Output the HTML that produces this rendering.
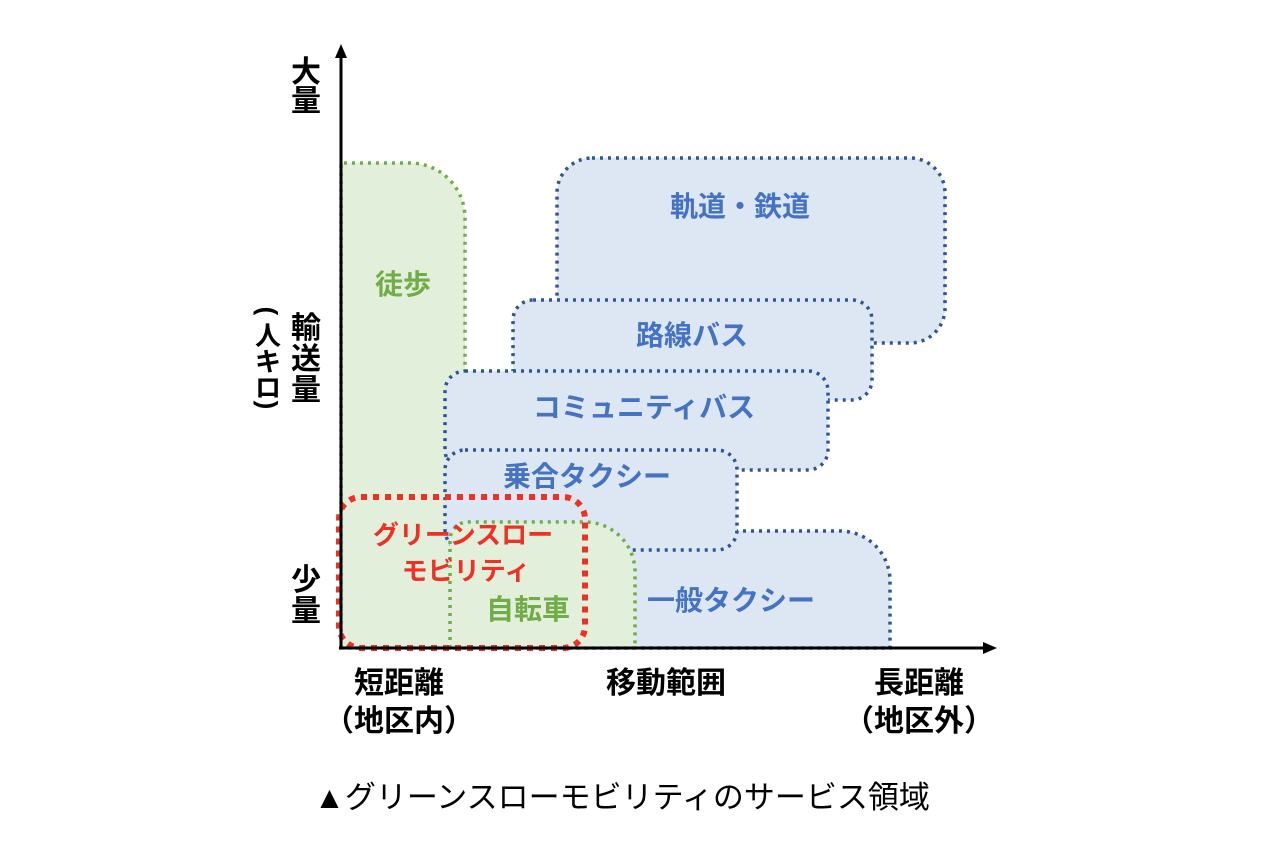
<!DOCTYPE html>
<html><head><meta charset="utf-8"><style>
body{margin:0;background:#fff;}
svg text{font-family:"Liberation Sans","Noto Sans CJK JP",sans-serif;font-weight:bold;}
</style></head><body>
<svg width="1279" height="857" viewBox="0 0 1279 857" xmlns="http://www.w3.org/2000/svg">
<g stroke-width="3.5" stroke-dasharray="3 5">
<path d="M341 648 V163 H410 A55 55 0 0 1 465 218 V648 Z" fill="#e2efda" stroke="#70ad47"/>
<path d="M500 648 V531 H840 A50 50 0 0 1 890 581 V648 Z" fill="#dde7f3" stroke="#2f5597"/>
<rect x="557" y="158" width="388" height="185" rx="35" fill="#dde7f3" stroke="#2f5597"/>
<rect x="513" y="300" width="359" height="100" rx="20" fill="#dde7f3" stroke="#2f5597"/>
<rect x="445" y="371" width="383" height="99" rx="20" fill="#dde7f3" stroke="#2f5597"/>
<rect x="445" y="450" width="292" height="100" rx="20" fill="#dde7f3" stroke="#2f5597"/>
<path d="M450 648 V540 A18 18 0 0 1 468 522 H585 A50 50 0 0 1 635 572 V648 Z" fill="#e2efda" stroke="#70ad47"/>
</g>
<rect x="339" y="497" width="246" height="151" rx="22" fill="none" stroke="#ee3124" stroke-width="6" stroke-dasharray="6 6"/>
<line x1="341" y1="648" x2="341" y2="55" stroke="#000" stroke-width="3"/>
<polygon points="341,44 335,58 347,58" fill="#000"/>
<line x1="339" y1="648" x2="985" y2="648" stroke="#000" stroke-width="3"/>
<polygon points="997,648 983,642 983,654" fill="#000"/>
<g font-size="28" text-anchor="middle" style="font-weight:900">
<text x="403" y="294" fill="#70ad47">徒歩</text>
<text x="740" y="216" fill="#4472c4">軌道・鉄道</text>
<text x="692" y="345" fill="#4472c4">路線バス</text>
<text x="644" y="417" fill="#4472c4">コミュニティバス</text>
<text x="587" y="486" fill="#4472c4">乗合タクシー</text>
<text x="731" y="610" fill="#4472c4">一般タクシー</text>
<text x="528" y="619" fill="#70ad47">自転車</text>
<text x="463" y="544" fill="#ee3124" font-size="26">グリーンスロー</text>
<text x="466" y="580" fill="#ee3124" font-size="26">モビリティ</text>
</g>
<g font-size="30" text-anchor="middle" fill="#000" style="font-weight:900">
<text x="306" y="82">大</text><text x="306" y="111">量</text>
<text x="306" y="338">輸</text><text x="306" y="369">送</text><text x="306" y="400">量</text>
<text x="306" y="590">少</text><text x="306" y="621">量</text>
<text x="399" y="693">短距離</text>
<text x="399" y="731">（地区内）</text>
<text x="666" y="693">移動範囲</text>
<text x="919" y="693">長距離</text>
<text x="919" y="731">（地区外）</text>
</g>
<g font-size="26" text-anchor="middle" fill="#000" style="font-weight:900">
<text x="268" y="345">人</text><text x="268" y="371">キ</text><text x="268" y="397">ロ</text>
<text x="0" y="0" dominant-baseline="central" transform="translate(268 311) rotate(90)">(</text>
<text x="0" y="0" dominant-baseline="central" transform="translate(268 405) rotate(90)">)</text>
</g>
<text x="622" y="808" font-size="31" text-anchor="middle" fill="#000" style="font-weight:normal">▲グリーンスローモビリティのサービス領域</text>
</svg>
</body></html>
